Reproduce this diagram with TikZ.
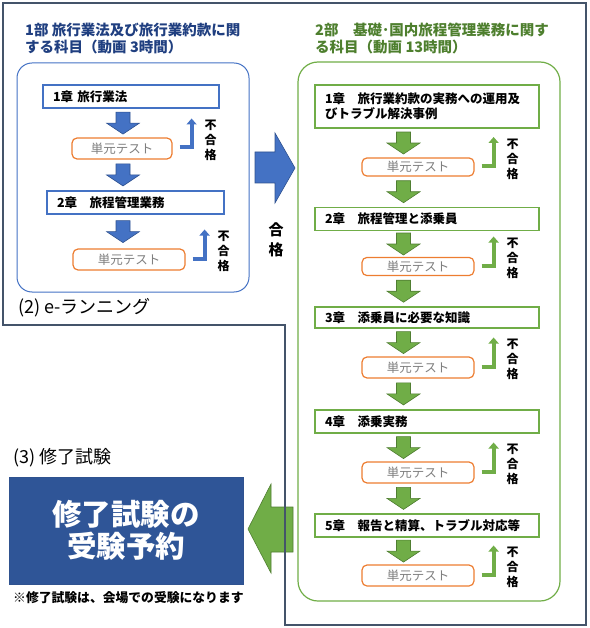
\documentclass[tikz,border=0pt]{standalone}
\usepackage{fontspec}
\setmainfont{Noto Sans CJK JP}
\usetikzlibrary{positioning, calc, arrows.meta}

\definecolor{bluefill}{HTML}{4472C4}
\definecolor{blueline}{HTML}{2F528F}
\definecolor{greenfill}{HTML}{70AD47}
\definecolor{greenline}{HTML}{507E32}
\definecolor{framegray}{HTML}{44546A}
\definecolor{testline}{HTML}{ED7D31}
\definecolor{testtext}{HTML}{7F7F7F}
\definecolor{examblue}{HTML}{2F5597}
\definecolor{titleblue}{HTML}{203F80}
\definecolor{titlegreen}{HTML}{4E7F2E}

\begin{document}
\begin{tikzpicture}
	[x=1pt, y=-1pt, on grid,
	 chap/.style={draw=#1, line width=1.5pt, fill=white, minimum height=23pt,
	   align=left, inner xsep=10pt, inner ysep=0pt, font=\bfseries\fontsize{12.5}{15}\selectfont},
	 unit/.style={draw=testline, line width=1.2pt, rounded corners=5pt, fill=white,
	   minimum height=21pt, text=testtext, font=\fontsize{12.5}{15}\selectfont},
	 fail/.style={align=center, font=\bfseries\fontsize{12}{15}\selectfont},
	 parttitle/.style={anchor=west, align=left, inner sep=0pt, font=\bfseries\fontsize{14.5}{17}\selectfont},
	 caption/.style={anchor=west, inner sep=0pt, font=\fontsize{18}{20}\selectfont},
	 ret/.style={line width=4pt, -{Triangle[width=10pt,length=6pt]}},
	 bluearr/.style={fill=bluefill, draw=blueline, line width=0.6pt},
	 greenarr/.style={fill=greenfill, draw=greenline, line width=0.6pt},
	 pics/downarr/.style={code={
	   \draw[pic actions] (-7,-11) -- (7,-11) -- (7,0) -- (16.5,0)
	     -- (0,11) -- (-16.5,0) -- (-7,0) -- cycle;}}]
   \useasboundingbox (0,0) rectangle (589,628);

   \node[parttitle, text=titleblue] (part_1) at (25,38.5) {1部 旅行業法及び旅行業約款に関\\する科目（動画 3時間）};
   \node[parttitle, text=titlegreen] (part_2) at (315,38.5) {2部　基礎･国内旅程管理業務に関す\\る科目（動画 13時間）};

   \draw[bluefill, line width=1pt, rounded corners=15pt] (17,63) rectangle (249,292);
   \draw[greenfill, line width=1.2pt, rounded corners=20pt] (298,62) rectangle (560,601);

   \node[chap=bluefill, text width=156pt] (l_1) at (131,96.5) {1章 旅行業法};
   \node[unit, minimum width=100pt] (lt_1) [below=52pt of l_1, xshift=-9pt] {単元テスト};
   \node[chap=bluefill, text width=157pt] (l_2) [below=54pt of lt_1, xshift=13.5pt] {2章　旅程管理業務};
   \node[unit, minimum width=112pt] (lt_2) [below=57pt of l_2, xshift=-6.5pt] {単元テスト};

   \node[chap=greenfill, text width=204pt, minimum height=43pt] (r_1) at (427,106.5) {1章　旅行業約款の実務への運用及\\びトラブル解決事例};
   \node[unit, minimum width=112pt, minimum height=16pt] (rt_1) [below=60.5pt of r_1, xshift=-9pt] {単元テスト};
   \node[chap=greenfill, text width=204pt] (r_2) [below=52pt of rt_1, xshift=9pt] {2章　旅程管理と添乗員};
   \node[unit, minimum width=112pt, minimum height=17pt] (rt_2) [below=47.5pt of r_2, xshift=-9pt] {単元テスト};
   \node[chap=greenfill, text width=204pt, minimum height=21pt] (r_3) [below=51pt of rt_2, xshift=9pt] {3章　添乗員に必要な知識};
   \node[unit, minimum width=112pt] (rt_3) [below=50pt of r_3, xshift=-9pt] {単元テスト};
   \node[chap=greenfill, text width=204pt] (r_4) [below=54pt of rt_3, xshift=9pt] {4章　添乗実務};
   \node[unit, minimum width=112pt] (rt_4) [below=51pt of r_4, xshift=-9pt] {単元テスト};
   \node[chap=greenfill, text width=204pt] (r_5) [below=53pt of rt_4, xshift=9pt] {5章　報告と精算、トラブル対応等};
   \node[unit, minimum width=112pt] (rt_5) [below=50pt of r_5, xshift=-9pt] {単元テスト};

   \coordinate (laxis) at (123,0);
   \coordinate (raxis) at (403.5,0);
   \foreach \a/\b in {l_1/lt_1, lt_1/l_2, l_2/lt_2}
      \pic[bluearr] at ($(\a.south -| laxis)!.5!(\b.north -| laxis)$) {downarr};
   \foreach \a/\b in {r_1/rt_1, rt_1/r_2, r_2/rt_2, rt_2/r_3, r_3/rt_3, rt_3/r_4, r_4/rt_4, rt_4/r_5, r_5/rt_5}
      \pic[greenarr] at ($(\a.south -| raxis)!.5!(\b.north -| raxis)$) {downarr};

   \foreach \t/\c in {lt_1/bluefill, lt_2/bluefill, rt_1/greenfill, rt_2/greenfill, rt_3/greenfill, rt_4/greenfill, rt_5/greenfill} {
      \draw[ret, \c] ([xshift=7pt, yshift=1pt]\t.east) -| ([xshift=19pt, yshift=30pt]\t.east);
      \node[fail] at ([xshift=38pt, yshift=8pt]\t.east) {不\\合\\格};
   }

   \draw[bluearr] (255,152) -- (275,152) -- (275,133) -- (295,168) -- (275,203) -- (275,183) -- (255,183) -- cycle;
   \node[align=center, font=\bfseries\fontsize{15}{20}\selectfont] (pass) at (276,240) {合\\格};

   \node[caption] (elearn) at (18,308) {(2) e-ランニング};
   \node[caption] (final) at (13,458) {(3) 修了試験};
   \node[fill=examblue, draw=blueline, minimum width=234pt, minimum height=107pt, text=white, align=center,
      font=\bfseries\fontsize{29.5}{32}\selectfont] (exam) at (126,530.5) {修了試験の\\受験予約};
   \node[anchor=west, inner sep=0pt, font=\bfseries\fontsize{12.8}{15}\selectfont] (note) at (13,598) {※修了試験は、会場での受験になります};

   \draw[greenarr] (293,507) -- (271,507) -- (271,484) -- (248,529) -- (271,573) -- (271,552) -- (293,552) -- cycle;

   \draw[framegray, line width=2.5pt] (3,3) -- (586,3) -- (586,625) -- (285,625) -- (285,325) -- (3,325) -- cycle;
\end{tikzpicture}
\end{document}
